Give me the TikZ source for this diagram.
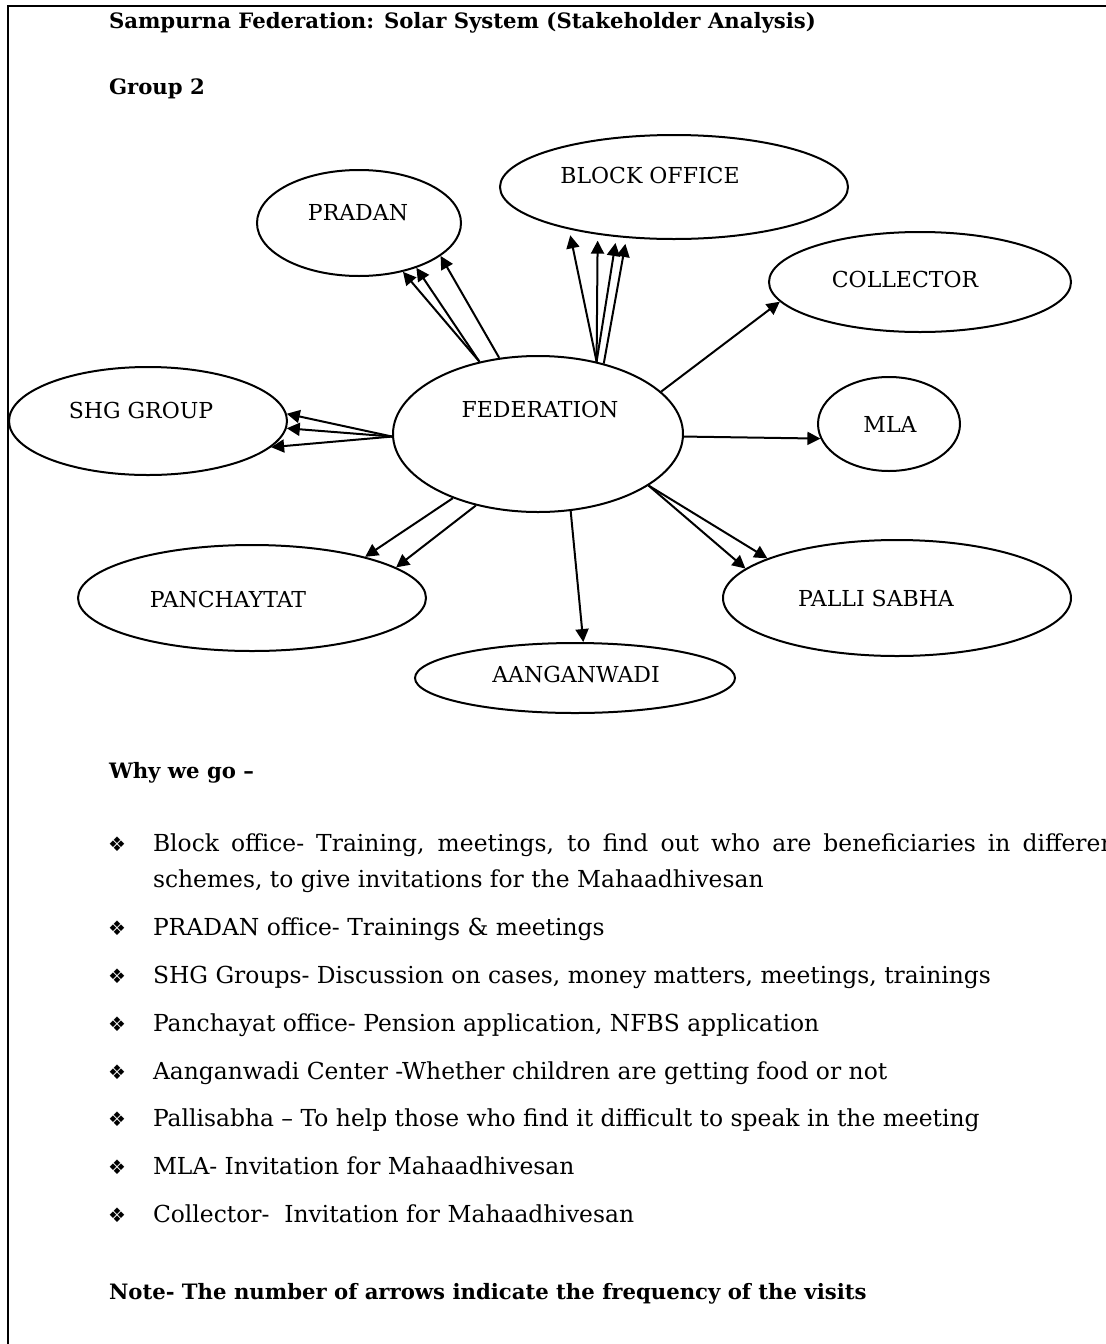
\documentclass[tikz,border=0pt]{standalone}
\usepackage{fontspec}
\setmainfont{DejaVu Serif}
\newfontfamily\bulletfont{DejaVu Sans}
\usetikzlibrary{arrows.meta,shapes.geometric}

\begin{document}
\begin{tikzpicture}[x=0.5pt, y=-0.5pt, line width=1pt,
  >={Triangle[length=6.5pt,width=6.5pt]},
  stake/.style={draw, ellipse, inner sep=0pt},
  label/.style={inner sep=0pt, font=\fontsize{11}{13}\selectfont},
  head/.style={anchor=base west, inner sep=0pt, font=\bfseries\fontsize{10.6}{12}\selectfont},
  item/.style={anchor=base west, inner sep=0pt, font=\fontsize{11.7}{13}\selectfont},
  dot/.style={inner sep=0pt, font=\bulletfont\fontsize{10}{12}\selectfont}]

  \useasboundingbox (0,0) rectangle (1106,1344);
  \fill[white] (0,0) rectangle (1106,1344);
  \draw (1106,6) -- (8,6) -- (8,1344);

  \node[head] (title) at (108,28) {Sampurna Federation: Solar System (Stakeholder Analysis)};
  \node[head] (group) at (108,94) {Group 2};

  % stakeholders
  \node[stake, minimum width=145pt, minimum height=78pt] (fed)    at (538,434) {};
  \node[stake, minimum width=102pt, minimum height=53pt] (pradan) at (359,223) {};
  \node[stake, minimum width=174pt, minimum height=52pt] (block)  at (674,187) {};
  \node[stake, minimum width=151pt, minimum height=50pt] (coll)   at (920,282) {};
  \node[stake, minimum width=71pt,  minimum height=47pt] (mla)    at (889,424) {};
  \node[stake, minimum width=139pt, minimum height=54pt] (shg)    at (148,421) {};
  \node[stake, minimum width=174pt, minimum height=53pt] (panch)  at (252,598) {};
  \node[stake, minimum width=160pt, minimum height=35pt] (aang)   at (575,678) {};
  \node[stake, minimum width=174pt, minimum height=58pt] (palli)  at (897,598) {};

  \node[label] (fed-t)    at (540,409) {FEDERATION};
  \node[label] (pradan-t) at (358,213) {PRADAN};
  \node[label] (block-t)  at (650,175) {BLOCK OFFICE};
  \node[label] (coll-t)   at (905,279) {COLLECTOR};
  \node[label] (mla-t)    at (890,424) {MLA};
  \node[label] (shg-t)    at (141,410) {SHG GROUP};
  \node[label] (panch-t)  at (228,599) {PANCHAYTAT};
  \node[label] (aang-t)   at (576,674) {AANGANWADI};
  \node[label] (palli-t)  at (876,598) {PALLI SABHA};

  % visits
  \draw[->] (fed.129) -- (pradan.312);
  \draw[->] (fed.129) -- (pradan.322);
  \draw[->] (fed.117) -- (pradan.338);

  \draw[->, shorten >=3pt] (fed.51) -- (block.202);
  \draw[->, shorten >=3pt] (fed.51) -- (block.212);
  \draw[->, shorten >=3pt] (fed.51) -- (block.221);
  \draw[->, shorten >=3pt] (fed.47) -- (block.227);

  \draw[->] (fed.19) -- (coll.188);
  \draw[->] (fed.359) -- (mla.192);

  \draw[->] (fed.181) -- (shg.3);
  \draw[->] (fed.181) -- (shg.357);
  \draw[->] (fed.181) -- (shg.348);

  \draw[->] (fed.217) -- (panch.20);
  \draw[->] (fed.229) -- (panch.12);

  \draw[->] (fed.293) -- (aang.77);

  \draw[->] (fed.335) -- (palli.169);
  \draw[->] (fed.335) -- (palli.163);

  % reasons
  \node[head] (why) at (108,778) {Why we go –};

  \node[dot] (d1) at (117,844) {❖};
  \node[item] (i1) at (152,851) {\makebox[486pt][s]{Block office- Training, meetings, to find out who are beneficiaries in different}};
  \node[item] (i1b) at (152,887) {schemes, to give invitations for the Mahaadhivesan};
  \node[dot] (d2) at (117,928) {❖};
  \node[item] (i2) at (152,935) {PRADAN office- Trainings \& meetings};
  \node[dot] (d3) at (117,976) {❖};
  \node[item] (i3) at (152,983) {SHG Groups- Discussion on cases, money matters, meetings, trainings};
  \node[dot] (d4) at (117,1024) {❖};
  \node[item] (i4) at (152,1031) {Panchayat office- Pension application, NFBS application};
  \node[dot] (d5) at (117,1072) {❖};
  \node[item] (i5) at (152,1079) {Aanganwadi Center -Whether children are getting food or not};
  \node[dot] (d6) at (117,1119) {❖};
  \node[item] (i6) at (152,1126) {Pallisabha – To help those who find it difficult to speak in the meeting};
  \node[dot] (d7) at (117,1167) {❖};
  \node[item] (i7) at (152,1174) {MLA- Invitation for Mahaadhivesan};
  \node[dot] (d8) at (117,1215) {❖};
  \node[item] (i8) at (152,1222) {Collector-~ Invitation for Mahaadhivesan};

  \node[head] (note) at (108,1299) {Note- The number of arrows indicate the frequency of the visits};

\end{tikzpicture}
\end{document}
